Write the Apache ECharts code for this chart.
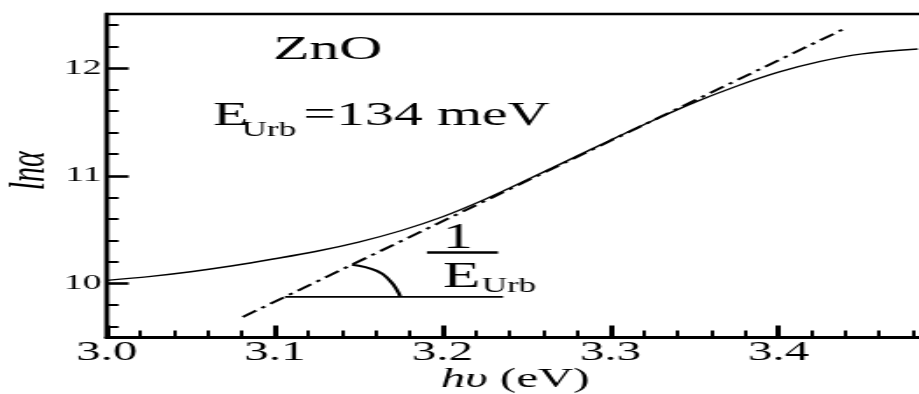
<!DOCTYPE html>
<html>
<head>
<meta charset="utf-8">
<script src="https://cdn.jsdelivr.net/npm/echarts@6/dist/echarts.min.js"></script>
<style>
  html, body { margin: 0; padding: 0; background: #fff; overflow: hidden; }
  /* the figure is laid out narrow and widened horizontally */
  #chart { width: 525px; height: 394px; transform: scaleX(1.7505); transform-origin: 0 0; }
</style>
</head>
<body>
<div id="chart"></div>
<script>
// Absorption edge of ZnO: ln(alpha) against photon energy (eV)
const photonEnergy = [3.000, 3.025, 3.050, 3.075, 3.100, 3.125, 3.150, 3.175, 3.200, 3.225,
                      3.250, 3.275, 3.300, 3.325, 3.350, 3.375, 3.400, 3.425, 3.450, 3.483];
const lnAlpha      = [10.03, 10.065, 10.11, 10.165, 10.23, 10.30, 10.385, 10.49, 10.62, 10.78,
                      10.96, 11.145, 11.33, 11.51, 11.68, 11.83, 11.96, 12.06, 12.13, 12.175];

// Urbach tail tangent: slope is 1 / E_Urb
const urbachEnergy = 0.134; // eV
const tangentEnergy = [3.081, 3.438];
const tangentStart = 9.69;

// horizontal reference and the angle arc
const baseEnergy  = [3.106, 3.236];
const baseLnAlpha = [9.876, 9.876];
const arcEnergy   = [3.146, 3.1608, 3.1687, 3.1737, 3.1747];
const arcLnAlpha  = [10.175, 10.118, 10.025, 9.916, 9.876];

// axis ticks
const xTickLabels = [3.0, 3.1, 3.2, 3.3, 3.4];
const xMinorTicks = [3.02, 3.04, 3.06, 3.08, 3.12, 3.14, 3.16, 3.18, 3.22, 3.24, 3.26, 3.28,
                     3.32, 3.34, 3.36, 3.38, 3.42, 3.44, 3.46, 3.48];
const yTickLabels = [10, 11, 12];
const yMinorTicks = [9.6, 9.8, 10.2, 10.4, 10.6, 10.8, 11.2, 11.4, 11.6, 11.8, 12.2, 12.4];

const FONT = '"Liberation Serif", "Times New Roman", serif';
const INK = '#000';

const zip = (xs, ys) => xs.map((x, i) => [x, ys[i]]);
const tangentLnAlpha = [tangentStart,
  tangentStart + (tangentEnergy[1] - tangentEnergy[0]) / urbachEnergy];

const chart = echarts.init(document.getElementById('chart'), null, { renderer: 'canvas' });

const hiddenAxisParts = {
  axisLine: { show: false },
  axisLabel: { show: false },
  splitLine: { show: false }
};

chart.setOption({
  animation: false,
  backgroundColor: '#fff',
  grid: {
    left: 61, right: -15.6, top: 14, bottom: 56.5,
    containLabel: false, outerBoundsMode: 'none',
    show: true, borderColor: '#000', borderWidth: 2.5, backgroundColor: 'transparent'
  },
  xAxis: [
    {
      type: 'value', min: 3.0, max: 3.5, position: 'bottom',
      name: '{i|hυ} (eV)',
      nameLocation: 'middle', nameGap: 28, nameMoveOverlap: false,
      nameTextStyle: {
        fontFamily: FONT, fontSize: 28, color: INK, padding: [0, 13, 0, 0],
        rich: { i: { fontFamily: FONT, fontSize: 28, fontStyle: 'italic', color: INK } }
      },
      axisLine: { show: true, lineStyle: { color: '#000', width: 3 } },
      axisTick: { show: true, inside: true, length: 12, customValues: xTickLabels,
                  lineStyle: { color: '#000', width: 3 } },
      axisLabel: { show: true, customValues: xTickLabels, margin: 1,
                   formatter: v => v.toFixed(1),
                   fontFamily: FONT, fontSize: 28, color: INK },
      splitLine: { show: false }
    },
    Object.assign({
      type: 'value', min: 3.0, max: 3.5, position: 'bottom',
      axisTick: { show: true, inside: true, length: 7, customValues: xMinorTicks,
                  lineStyle: { color: '#000', width: 2 } }
    }, hiddenAxisParts)
  ],
  yAxis: [
    {
      type: 'value', min: 9.5, max: 12.5, position: 'left',
      name: 'lnα',
      nameLocation: 'middle', nameRotate: 90, nameGap: 29, nameMoveOverlap: false,
      nameTextStyle: { fontFamily: FONT, fontSize: 30, fontStyle: 'italic', color: INK,
                       padding: [0, 0, 0, 10] },
      axisLine: { show: true, lineStyle: { color: '#000', width: 2.3 } },
      axisTick: { show: true, inside: true, length: 12.5, customValues: yTickLabels,
                  lineStyle: { color: '#000', width: 2.6 } },
      axisLabel: { show: true, customValues: yTickLabels, margin: 3,
                   formatter: v => String(v),
                   fontFamily: FONT, fontSize: 21.5, color: INK },
      splitLine: { show: false }
    },
    Object.assign({
      type: 'value', min: 9.5, max: 12.5, position: 'left',
      axisTick: { show: true, inside: true, length: 6.7, customValues: yMinorTicks,
                  lineStyle: { color: '#000', width: 2 } }
    }, hiddenAxisParts)
  ],
  series: [
    {
      name: 'ln alpha', type: 'line', smooth: 0.3, symbol: 'none',
      data: zip(photonEnergy, lnAlpha),
      lineStyle: { color: '#000', width: 1.4 }
    },
    {
      name: 'Urbach tangent', type: 'line', symbol: 'none',
      data: zip(tangentEnergy, tangentLnAlpha),
      lineStyle: { color: '#000', width: 2, type: [10, 4, 2.5, 4] }
    },
    {
      name: 'baseline', type: 'line', symbol: 'none',
      data: zip(baseEnergy, baseLnAlpha),
      lineStyle: { color: '#000', width: 1.8 }
    },
    {
      name: 'angle', type: 'line', symbol: 'none', smooth: 0.5,
      data: zip(arcEnergy, arcLnAlpha),
      lineStyle: { color: '#000', width: 2.2 }
    }
  ],
  graphic: [
    { type: 'text', x: 156, y: 50,
      style: { text: 'ZnO', font: '34px ' + FONT, fill: INK,
               align: 'left', verticalAlign: 'middle', textAlign: 'left', textVerticalAlign: 'middle' } },
    { type: 'text', x: 121.7, y: 116,
      style: { text: 'E', font: '33px ' + FONT, fill: INK,
               align: 'left', verticalAlign: 'middle', textAlign: 'left', textVerticalAlign: 'middle' } },
    { type: 'text', x: 138.1, y: 131,
      style: { text: 'Urb', font: '20px ' + FONT, fill: INK,
               align: 'left', verticalAlign: 'middle', textAlign: 'left', textVerticalAlign: 'middle' } },
    { type: 'text', x: 173.3, y: 116,
      style: { text: '=134 meV', font: '33px ' + FONT, fill: INK,
               align: 'left', verticalAlign: 'middle', textAlign: 'left', textVerticalAlign: 'middle' } },
    { type: 'text', x: 261.6, y: 239,
      style: { text: '1', font: '35px ' + FONT, fill: INK,
               align: 'center', verticalAlign: 'middle', textAlign: 'center', textVerticalAlign: 'middle' } },
    { type: 'line', shape: { x1: 243.9, y1: 252.5, x2: 284.5, y2: 252.5 },
      style: { stroke: '#000', lineWidth: 2.5 } },
    { type: 'text', x: 253.1, y: 277.5,
      style: { text: 'E', font: '35px ' + FONT, fill: INK,
               align: 'left', verticalAlign: 'middle', textAlign: 'left', textVerticalAlign: 'middle' } },
    { type: 'text', x: 275.2, y: 286.5,
      style: { text: 'Urb', font: '20px ' + FONT, fill: INK,
               align: 'left', verticalAlign: 'middle', textAlign: 'left', textVerticalAlign: 'middle' } }
  ]
});
</script>
</body>
</html>
